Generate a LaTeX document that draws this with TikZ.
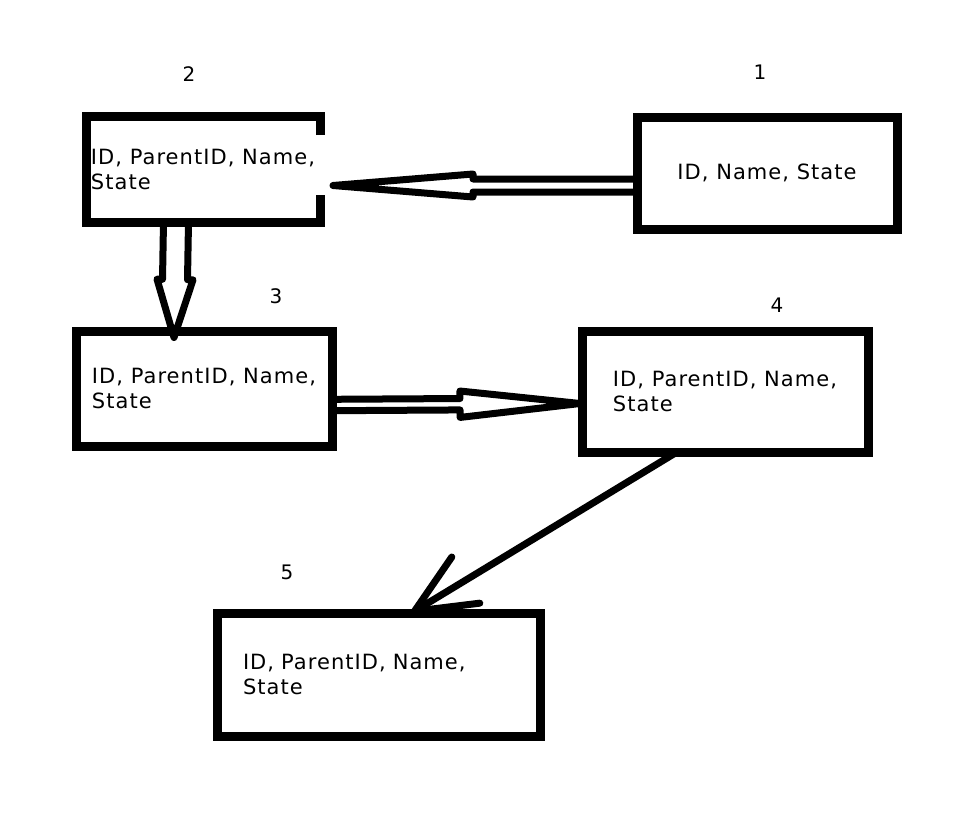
\documentclass[tikz,border=0pt]{standalone}
\usepackage{fontspec}
\setmainfont{DejaVu Sans}[LetterSpace=5]
\usetikzlibrary{calc,arrows.meta}

% start, tip, half gap, half head width, head length
\newcommand\hollowarrow[5]{%
  \path (#1) coordinate (ha-s) (#2) coordinate (ha-e);
  \path ($(ha-e)!#5!(ha-s)$) coordinate (ha-h);
  \draw[hollow] ($(ha-s)!#3!90:(ha-e)$) -- ($(ha-h)!#3!90:(ha-e)$)
    -- ($(ha-h)!#4!90:(ha-e)$) -- (ha-e) -- ($(ha-h)!#4!-90:(ha-e)$)
    -- ($(ha-h)!#3!-90:(ha-e)$) -- ($(ha-s)!#3!-90:(ha-e)$);}

\begin{document}
\begin{tikzpicture}[x=1pt, y=-1pt,
  box/.style={draw, line width=9pt, outer sep=0pt, inner sep=0pt, align=left,
    font=\fontsize{21}{25}\selectfont},
  boxline/.style={line width=9pt},
  num/.style={font=\fontsize{20}{25}\selectfont},
  hollow/.style={line width=7pt, line join=round},
  link/.style={line width=7pt, line cap=round,
    -{Straight Barb[length=60pt, width=54pt, round]}}]
  \useasboundingbox (0,0) rectangle (965,816);
  % tables
  \node[box, minimum width=260pt, minimum height=112pt] (b1) at (767,173) {ID, Name, State};
  \node[box, draw=none, minimum width=234pt, minimum height=106pt] (b2) at (203,169) {ID, ParentID, Name,\\State};
  \draw[boxline] ([yshift=-19pt]b2.north east) -- (b2.north east) -- (b2.north west)
    -- (b2.south west) -- (b2.south east) -- ([yshift=27pt]b2.south east);
  \node[box, minimum width=256pt, minimum height=115pt] (b3) at (204,388.5) {ID, ParentID, Name,\\State};
  \node[box, minimum width=286pt, minimum height=121pt] (b4) at (725,391.5) {ID, ParentID, Name,\\State};
  \node[box, inner xsep=26pt, text width=271pt, minimum height=123pt] (b5) at (378.5,674.5) {ID, ParentID, Name,\\State};
  % numbers
  \node[num] (n1) at (760,72) {1};
  \node[num] (n2) at (189,74) {2};
  \node[num] (n3) at (276,296) {3};
  \node[num] (n4) at (777,305) {4};
  \node[num] (n5) at (287,572) {5};
  % links
  \hollowarrow{[yshift=-12.5pt]b1.west}{[xshift=13pt,yshift=-16.5pt]b2.east}{6.5pt}{11.5pt}{140pt}
  \hollowarrow{[xshift=-27pt]b2.south}{[xshift=-30pt,yshift=-6.5pt]b3.north}{12.5pt}{18pt}{58pt}
  \hollowarrow{[yshift=-16.5pt]b3.east}{[xshift=-2pt,yshift=-12pt]b4.west}{5.7pt}{13.2pt}{120pt}
  \draw[link] ([xshift=-48pt]b4.south) -- ([xshift=33pt]b5.north);
\end{tikzpicture}
\end{document}
